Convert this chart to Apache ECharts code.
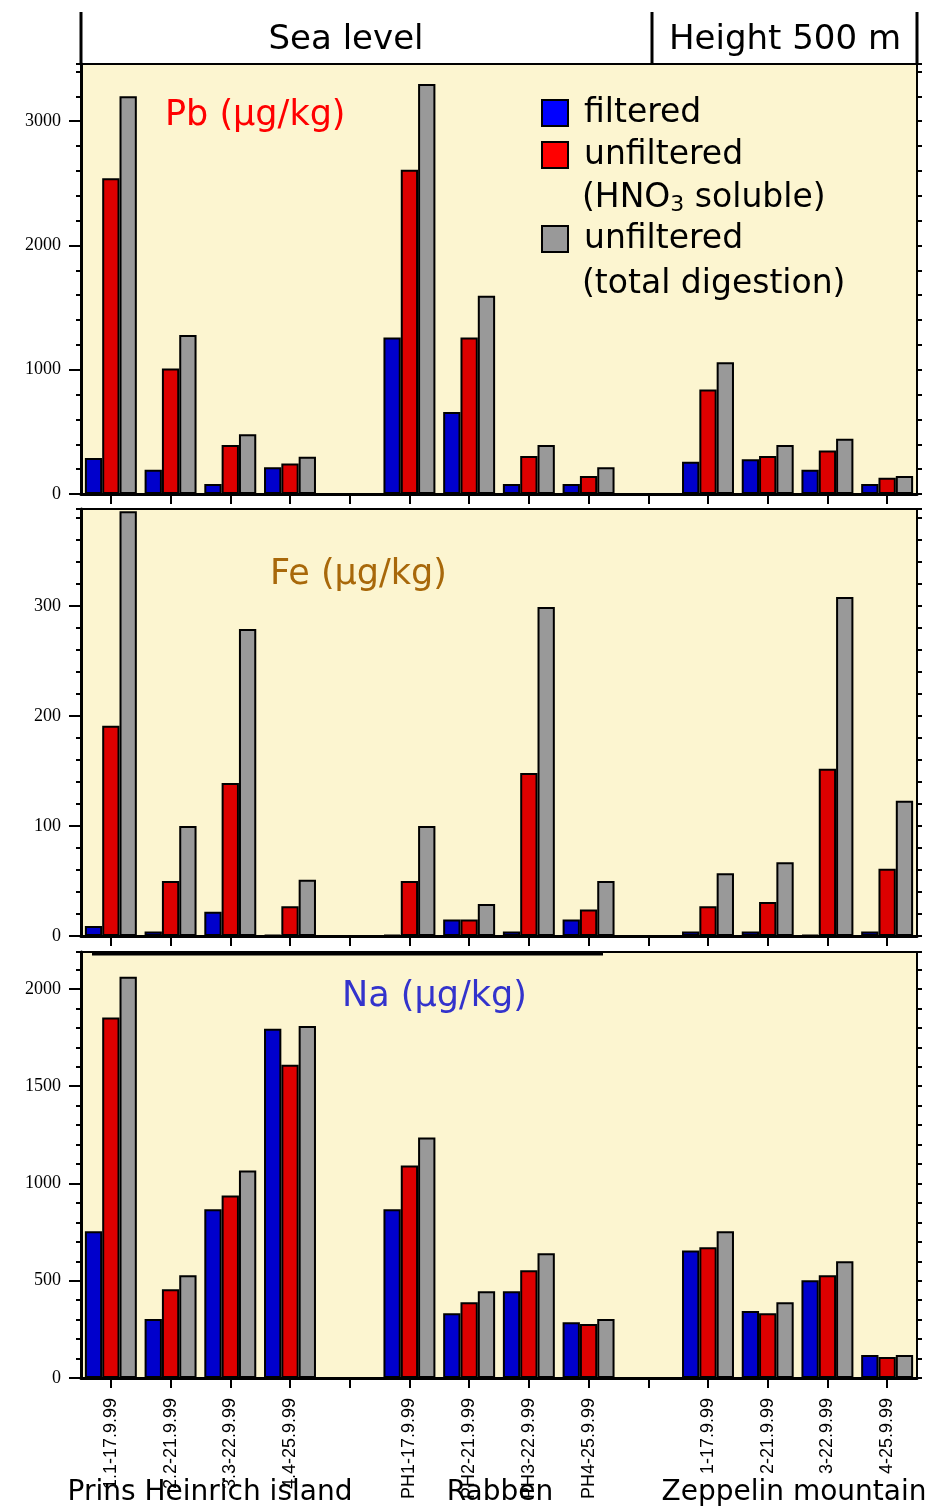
<!DOCTYPE html>
<html>
<head>
<meta charset="utf-8">
<script src="https://cdn.jsdelivr.net/npm/echarts@6/dist/echarts.min.js"></script>
<style>html,body{margin:0;padding:0;background:#fff;}#main{width:936px;height:1511px;}</style>
</head>
<body>
<div id="main"></div>
<script>
// ---- data ----
const categories = ['1.1-17.9.99','2.2-21.9.99','3.3-22.9.99','4.4-25.9.99','',
  'PH1-17.9.99','PH2-21.9.99','PH3-22.9.99','PH4-25.9.99','',
  '1-17.9.99','2-21.9.99','3-22.9.99','4-25.9.99'];
const seriesNames = ['filtered','unfiltered (HNO3 soluble)','unfiltered (total digestion)'];
const pbFiltered = [290,195,80,215,null,1260,660,80,80,null,260,280,195,80];
const pbHNO3     = [2540,1010,395,245,null,2610,1260,305,145,null,840,305,350,130];
const pbTotal    = [3200,1280,480,300,null,3300,1595,395,215,null,1060,395,445,145];
const feFiltered = [9,4,22,1,null,1,15,4,15,null,4,4,1,4];
const feHNO3     = [191,50,139,27,null,50,15,148,24,null,27,31,152,61];
const feTotal    = [386,100,279,51,null,100,29,299,50,null,57,67,308,123];
const naFiltered = [755,303,867,1795,null,867,333,446,287,null,656,344,503,118];
const naHNO3     = [1853,456,938,1610,null,1092,390,554,277,null,672,333,528,108];
const naTotal    = [2063,528,1067,1810,null,1236,446,641,303,null,754,390,600,118];
const panelTitles = ['Pb (µg/kg)','Fe (µg/kg)','Na (µg/kg)'];
const headerLabels = ['Sea level','Height 500 m'];
const siteLabels = ['Prins Heinrich island','Rabben','Zeppelin mountain'];
const yMax = [3460, 388, 2190];
const yMajor = [1000, 100, 500];
const yMinor = [200, 20, 100];

// ---- layout / style ----
const grids = [
  {left:81, right:19, top:64, height:430},
  {left:81, right:19, top:509, height:427},
  {left:81, right:19, top:952, height:426}
];
const barColors = ['#0000cc','#dd0000','#999999'];
const legendColors = ['#0000ff','#ff0000','#999999'];
const panelData = [[pbFiltered,pbHNO3,pbTotal],[feFiltered,feHNO3,feTotal],[naFiltered,naHNO3,naTotal]];
const titleColors = ['#ff0000','#a8680a','#3333cc'];
const titleLeft = [165, 270, 342];
const titleY = [116, 575, 997];
const sans = '"DejaVu Sans", sans-serif';

const xAxes = [], yAxes = [], series = [];
grids.forEach((g, i) => {
  g.show = true; g.backgroundColor = '#fcf5d0'; g.borderColor = '#000'; g.borderWidth = 2;
  const isLast = i === 2;
  xAxes.push({
    type:'category', gridIndex:i, data:categories,
    axisLine:{lineStyle:{color:'#000', width:3}},
    axisTick:{show:true, alignWithLabel:true, length:10, lineStyle:{color:'#000', width:2}},
    axisLabel:{show:isLast, rotate:90, interval:0, margin:20, color:'#000', fontSize:18, fontFamily:'"Liberation Sans", Arial, sans-serif'},
    splitLine:{show:false}
  });
  yAxes.push({
    type:'value', gridIndex:i, position:'left', min:0, max:yMax[i], interval:yMajor[i],
    axisLine:{show:true, lineStyle:{color:'#000', width:3}},
    axisTick:{show:true, length:12, lineStyle:{color:'#000', width:2}},
    axisLabel:{color:'#000', fontSize:18, fontFamily:'"Liberation Serif", "Times New Roman", serif', margin:20, showMaxLabel:false,
      formatter:v => String(v)},
    splitLine:{show:false}
  });
  yAxes.push({
    type:'value', gridIndex:i, position:'left', min:0, max:yMax[i], interval:yMinor[i],
    axisLine:{show:false}, axisLabel:{show:false},
    axisTick:{show:true, length:5, lineStyle:{color:'#000', width:2}},
    splitLine:{show:false}
  });
  yAxes.push({
    type:'value', gridIndex:i, position:'right', min:0, max:yMax[i], interval:yMinor[i],
    axisLine:{show:true, lineStyle:{color:'#000', width:2}}, axisLabel:{show:false},
    axisTick:{show:true, length:5, lineStyle:{color:'#000', width:2}},
    splitLine:{show:false}
  });
  panelData[i].forEach((arr, k) => {
    series.push({
      type:'bar', name:seriesNames[k], xAxisIndex:i, yAxisIndex:i*3,
      data:arr, barGap:'0%', barCategoryGap:'13%',
      itemStyle:{color:barColors[k], borderColor:'#000', borderWidth:2},
      emphasis:{disabled:true}
    });
  });
});

const titles = panelTitles.map((t, i) => ({
  text:t, left:titleLeft[i], top:titleY[i]-18, padding:0,
  textStyle:{color:titleColors[i], fontSize:35, fontWeight:'normal', fontFamily:sans, lineHeight:36}
}));

const chart = echarts.init(document.getElementById('main'), null, {renderer:'canvas'});
chart.setOption({
  animation:false,
  backgroundColor:'#ffffff',
  title:titles,
  grid:grids,
  xAxis:xAxes,
  yAxis:yAxes,
  legend:[
    {orient:'vertical', left:541, top:95, padding:0, itemWidth:26, itemHeight:26, itemGap:6,
     selectedMode:false, icon:'rect',
     data:[{name:seriesNames[0], itemStyle:{color:legendColors[0], borderColor:'#000', borderWidth:2}},
           {name:seriesNames[1], itemStyle:{color:legendColors[1], borderColor:'#000', borderWidth:2}}],
     formatter:n => n === seriesNames[0] ? 'filtered' : 'unfiltered',
     textStyle:{fontSize:33, fontFamily:sans, color:'#000', lineHeight:36, padding:[0,0,0,11]}},
    {orient:'vertical', left:541, top:221, padding:0, itemWidth:26, itemHeight:26,
     selectedMode:false, icon:'rect',
     data:[{name:seriesNames[2], itemStyle:{color:legendColors[2], borderColor:'#000', borderWidth:2}}],
     formatter:() => 'unfiltered',
     textStyle:{fontSize:33, fontFamily:sans, color:'#000', lineHeight:36, padding:[0,0,0,11]}}
  ],
  graphic:[
    {type:'text', left:582, top:182, style:{text:'(HNO{sub|3} soluble)', font:'33px "DejaVu Sans"', fill:'#000',
      rich:{sub:{fontSize:22, fontFamily:'DejaVu Sans', verticalAlign:'bottom', padding:[14,0,0,0]}}}},
    {type:'text', left:582, top:268, style:{text:'(total digestion)', font:'33px "DejaVu Sans"', fill:'#000'}},
    // header
    {type:'line', shape:{x1:81, y1:12, x2:81, y2:64}, style:{stroke:'#000', lineWidth:3}},
    {type:'line', shape:{x1:652, y1:12, x2:652, y2:64}, style:{stroke:'#000', lineWidth:3}},
    {type:'line', shape:{x1:917, y1:12, x2:917, y2:64}, style:{stroke:'#000', lineWidth:3}},
    {type:'text', x:346, y:40, style:{text:headerLabels[0], font:'34px "DejaVu Sans"', fill:'#000', align:'center', verticalAlign:'middle'}},
    {type:'text', x:785, y:40, style:{text:headerLabels[1], font:'34px "DejaVu Sans"', fill:'#000', align:'center', verticalAlign:'middle'}},
    // stray line on Na panel
    {type:'line', z:10, shape:{x1:92, y1:954, x2:603, y2:954}, style:{stroke:'#000', lineWidth:3}},
    // site labels
    {type:'text', x:210, y:1493, z:10, style:{text:siteLabels[0], font:'28px "DejaVu Sans"', fill:'#000', align:'center', verticalAlign:'middle'}},
    {type:'text', x:500, y:1493, z:10, style:{text:siteLabels[1], font:'28px "DejaVu Sans"', fill:'#000', align:'center', verticalAlign:'middle'}},
    {type:'text', x:794, y:1493, z:10, style:{text:siteLabels[2], font:'28px "DejaVu Sans"', fill:'#000', align:'center', verticalAlign:'middle'}}
  ],
  series:series
});
</script>
</body>
</html>
